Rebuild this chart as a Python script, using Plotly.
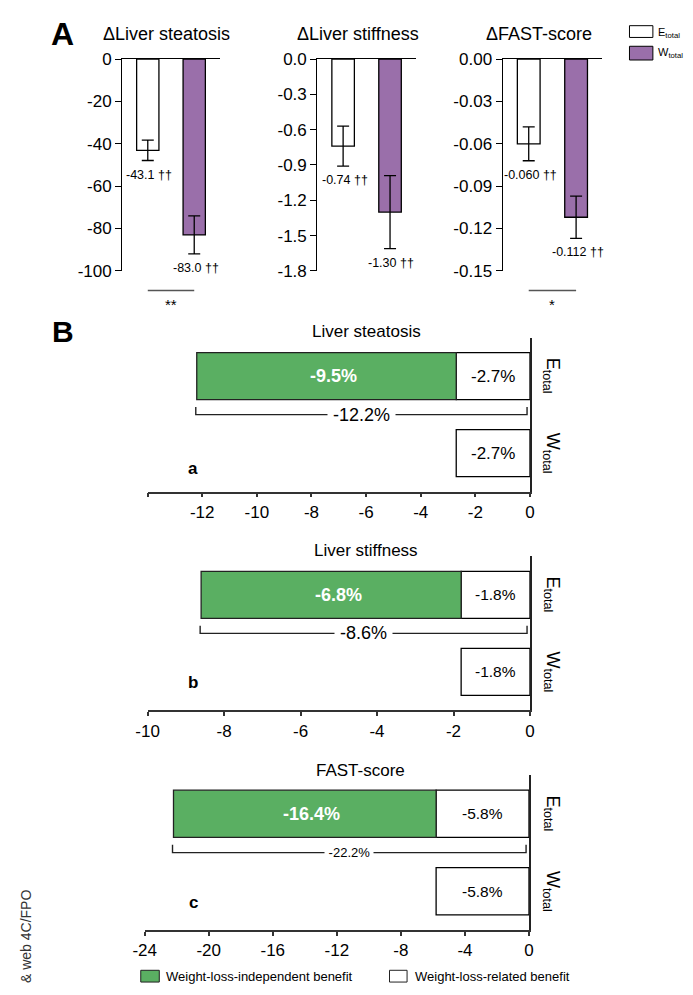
import plotly.graph_objects as go

# ---------------- data ----------------
# Panel A
groups = ["E_total", "W_total"]
a_titles = ["\u0394Liver steatosis", "\u0394Liver stiffness", "\u0394FAST-score"]
steatosis_mean = [-43.1, -83.0]
steatosis_sem = [4.8, 9.0]
stiffness_mean = [-0.74, -1.30]
stiffness_sem = [0.17, 0.31]
fast_mean = [-0.060, -0.112]
fast_sem = [0.012, 0.015]
steatosis_ticks = [0, -20, -40, -60, -80, -100]
steatosis_ticktext = ["0", "-20", "-40", "-60", "-80", "-100"]
stiffness_ticks = [0.0, -0.3, -0.6, -0.9, -1.2, -1.5, -1.8]
stiffness_ticktext = ["0.0", "-0.3", "-0.6", "-0.9", "-1.2", "-1.5", "-1.8"]
fast_ticks = [0.00, -0.03, -0.06, -0.09, -0.12, -0.15]
fast_ticktext = ["0.00", "-0.03", "-0.06", "-0.09", "-0.12", "-0.15"]
sig_marks = ["**", "", "*"]

# Panel B
b_titles = ["Liver steatosis", "Liver stiffness", "FAST-score"]
b_letters = ["a", "b", "c"]
independent = [-9.5, -6.8, -16.4]
related = [-2.7, -1.8, -5.8]
totals = [-12.2, -8.6, -22.2]
b_ticks_a = [-14, -12, -10, -8, -6, -4, -2, 0]
b_ticktext_a = [" ", "-12", "-10", "-8", "-6", "-4", "-2", "0"]
b_ticks_b = [-10, -8, -6, -4, -2, 0]
b_ticktext_b = ["-10", "-8", "-6", "-4", "-2", "0"]
b_ticks_c = [-24, -20, -16, -12, -8, -4, 0]
b_ticktext_c = ["-24", "-20", "-16", "-12", "-8", "-4", "0"]
legend_labels = ["Weight-loss-independent benefit", "Weight-loss-related benefit"]

# ---------------- styling ----------------
W, H = 693, 995
FONT = "Liberation Sans, Arial, Helvetica, sans-serif"
NARROW = "Liberation Sans Narrow, Arial Narrow, Liberation Sans, Arial, sans-serif"
PURPLE = "#9a6faa"
GREEN = "#5aaf62"
NBSP = "\u00a0"


def fx(px):
    return px / W


def fy(py):
    return 1 - py / H


fig = go.Figure()
annotations = []
shapes = []

# ---------------- Panel A ----------------
a_means = [steatosis_mean, stiffness_mean, fast_mean]
a_sems = [steatosis_sem, stiffness_sem, fast_sem]
a_ticks = [steatosis_ticks, stiffness_ticks, fast_ticks]
a_ticktext = [steatosis_ticktext, stiffness_ticktext, fast_ticktext]
a_fmt = ["{:.1f} \u2020\u2020", "{:.2f} \u2020\u2020", "{:.3f} \u2020\u2020"]
a_xdom = [(113, 213), (313, 414), (503, 605)]
a_title_x = [158, 355, 540]
layout_axes = {}

for i in range(3):
    n = i + 1
    xa = "x" if n == 1 else f"x{n}"
    ya = "y" if n == 1 else f"y{n}"
    fig.add_trace(go.Bar(
        x=[0, 1], y=a_means[i], width=0.48,
        marker=dict(color=["white", PURPLE], line=dict(color="black", width=1.3)),
        error_y=dict(type="data", array=a_sems[i], color="black", thickness=1.3, width=6),
        xaxis=xa, yaxis=ya, showlegend=False, hoverinfo="skip",
    ))
    layout_axes[f"xaxis{n}" if n > 1 else "xaxis"] = dict(
        domain=[fx(a_xdom[i][0]), fx(a_xdom[i][1])], range=[-0.55, 1.55],
        side="top", anchor=ya, showline=True, linecolor="black", linewidth=1.3,
        showticklabels=False, ticks="", showgrid=False, zeroline=False, fixedrange=True,
    )
    lo = a_ticks[i][-1]
    layout_axes[f"yaxis{n}" if n > 1 else "yaxis"] = dict(
        domain=[fy(267), fy(51)], range=[lo, 0], anchor=xa,
        showline=True, linecolor="black", linewidth=1.3,
        ticks="outside", ticklen=6, tickwidth=1.3, tickcolor="black",
        tickvals=a_ticks[i], ticktext=a_ticktext[i],
        tickfont=dict(size=17, color="black", family=FONT),
        showgrid=False, zeroline=False, fixedrange=True,
    )
    # title
    annotations.append(dict(
        text=a_titles[i], xref="paper", yref="paper", x=fx(a_title_x[i]), y=fy(25),
        showarrow=False, font=dict(size=18, color="black", family=FONT),
        xanchor="center", yanchor="middle",
    ))
    # value labels
    for j in range(2):
        annotations.append(dict(
            text=a_fmt[i].format(a_means[i][j]), xref=xa, yref=ya,
            x=j + 0.03, y=a_means[i][j] - a_sems[i][j], yshift=-14,
            showarrow=False, font=dict(size=12.5, color="black", family=NARROW),
            xanchor="center", yanchor="middle",
        ))
    # significance
    if sig_marks[i]:
        shapes.append(dict(
            type="line", xref=xa, yref="paper", x0=0, x1=1, y0=fy(287), y1=fy(287),
            line=dict(color="#555555", width=1.5),
        ))
        annotations.append(dict(
            text=sig_marks[i], xref=xa, yref="paper", x=0.5, y=fy(301),
            showarrow=False, font=dict(size=15, color="black", family=FONT),
            xanchor="center", yanchor="middle",
        ))

# legend of panel A
shapes.append(dict(type="rect", xref="paper", yref="paper", x0=fx(633), x1=fx(657),
                   y0=fy(29), y1=fy(17), fillcolor="white", line=dict(color="black", width=1)))
shapes.append(dict(type="rect", xref="paper", yref="paper", x0=fx(633), x1=fx(657),
                   y0=fy(52), y1=fy(38), fillcolor=PURPLE, line=dict(color="black", width=1)))
annotations.append(dict(text="E<sub>total</sub>", xref="paper", yref="paper", x=fx(660), y=fy(24),
                        showarrow=False, xanchor="left", yanchor="middle",
                        font=dict(size=11, color="black", family=FONT)))
annotations.append(dict(text="W<sub>total</sub>", xref="paper", yref="paper", x=fx(660), y=fy(45),
                        showarrow=False, xanchor="left", yanchor="middle",
                        font=dict(size=11, color="black", family=FONT)))

# ---------------- Panel B ----------------
b_ticks = [b_ticks_a, b_ticks_b, b_ticks_c]
b_ticktext = [b_ticktext_a, b_ticktext_b, b_ticktext_c]
b_xdom = [(139, 531), (139, 531), (136, 530)]
b_ydom = [(335, 492), (558, 715), (781, 939)]
b_title_pos = [(363, 329), (363, 552), (357, 776)]
b_letter_y = [468, 687, 911]
b_white_size = [17, 15.5, 15.5]
b_total_size = [18, 18, 13]

for i in range(3):
    n = i + 4
    xa, ya = f"x{n}", f"y{n}"
    # weight-loss-related (white) for E and W
    fig.add_trace(go.Bar(
        y=[1, 0], x=[related[i], related[i]], base=[0, 0], orientation="h", width=0.61,
        marker=dict(color="white", line=dict(color="black", width=1.3)),
        xaxis=xa, yaxis=ya, showlegend=False, hoverinfo="skip",
    ))
    # weight-loss-independent (green) for E
    fig.add_trace(go.Bar(
        y=[1], x=[independent[i]], base=[related[i]], orientation="h", width=0.61,
        marker=dict(color=GREEN, line=dict(color="#222222", width=1.3)),
        xaxis=xa, yaxis=ya, showlegend=False, hoverinfo="skip",
    ))
    lo = b_ticks[i][0]
    layout_axes[f"xaxis{n}"] = dict(
        domain=[fx(b_xdom[i][0]), fx(b_xdom[i][1])], range=[lo, 0], anchor=ya,
        showline=True, linecolor="#333333", linewidth=1.6,
        ticks="outside", ticklen=4, tickwidth=1.6, tickcolor="#333333",
        tickvals=b_ticks[i], ticktext=b_ticktext[i],
        tickfont=dict(size=17, color="black", family=FONT),
        showgrid=False, zeroline=False, fixedrange=True,
    )
    layout_axes[f"yaxis{n}"] = dict(
        domain=[fy(b_ydom[i][1]), fy(b_ydom[i][0])], range=[-0.5, 1.5], anchor=xa,
        side="right", showline=True, linecolor="#222222", linewidth=1.5,
        showticklabels=False, ticks="", showgrid=False, zeroline=False, fixedrange=True,
    )
    # title
    annotations.append(dict(
        text=b_titles[i], xref="paper", yref="paper",
        x=fx(b_title_pos[i][0]), y=fy(b_title_pos[i][1]),
        showarrow=False, font=dict(size=17, color="black", family=FONT),
        xanchor="center", yanchor="middle",
    ))
    # bar labels
    annotations.append(dict(
        text=f"<b>{independent[i]:.1f}%</b>", xref=xa, yref=ya,
        x=related[i] + independent[i] / 2, xshift=7, y=1,
        showarrow=False, font=dict(size=18, color="white", family=NARROW),
        xanchor="center", yanchor="middle",
    ))
    for yy in (1, 0):
        annotations.append(dict(
            text=f"{related[i]:.1f}%", xref=xa, yref=ya, x=related[i] / 2, y=yy,
            showarrow=False, font=dict(size=b_white_size[i], color="black", family=NARROW),
            xanchor="center", yanchor="middle",
        ))
    # bracket for total
    px_per_unit = (b_xdom[i][1] - b_xdom[i][0]) / (0 - lo)
    x_end = -3.0 / px_per_unit
    x_start = totals[i] - 1.0 / px_per_unit
    y_line = 0.5
    y_tick = 0.6
    shapes.append(dict(
        type="path", xref=xa, yref=ya,
        path=f"M {x_start},{y_tick} L {x_start},{y_line} L {x_end},{y_line} L {x_end},{y_tick}",
        line=dict(color="#222222", width=1.4),
    ))
    annotations.append(dict(
        text=f"{NBSP}{totals[i]:.1f}%{NBSP}", xref=xa, yref=ya, x=(x_start + x_end) / 2, y=y_line,
        showarrow=False, font=dict(size=b_total_size[i], color="black", family=NARROW),
        xanchor="center", yanchor="middle", bgcolor="white", borderpad=0,
    ))
    # rotated row labels
    for yy, lab in ((1, "E"), (0, "W")):
        annotations.append(dict(
            text=f"{lab}<sub>total</sub>", xref="paper", yref=ya, x=fx(553), y=yy,
            textangle=90, showarrow=False,
            font=dict(size=18, color="black", family=FONT),
            xanchor="center", yanchor="middle",
        ))
    # letter
    annotations.append(dict(
        text=f"<b>{b_letters[i]}</b>", xref="paper", yref="paper", x=fx(186), y=fy(b_letter_y[i]),
        showarrow=False, font=dict(size=17, color="black", family=FONT),
        xanchor="center", yanchor="middle",
    ))

# bottom legend
shapes.append(dict(type="rect", xref="paper", yref="paper", x0=fx(132), x1=fx(151),
                   y0=fy(992), y1=fy(980), fillcolor=GREEN, line=dict(color="#222222", width=1)))
shapes.append(dict(type="rect", xref="paper", yref="paper", x0=fx(387), x1=fx(405),
                   y0=fy(992), y1=fy(980), fillcolor="white", line=dict(color="#222222", width=1)))
annotations.append(dict(text=legend_labels[0], xref="paper", yref="paper", x=fx(156), y=fy(986),
                        showarrow=False, xanchor="left", yanchor="middle",
                        font=dict(size=13, color="black", family=FONT)))
annotations.append(dict(text=legend_labels[1], xref="paper", yref="paper", x=fx(411), y=fy(986),
                        showarrow=False, xanchor="left", yanchor="middle",
                        font=dict(size=13, color="black", family=FONT)))

# panel letters
annotations.append(dict(text="<b>A</b>", xref="paper", yref="paper", x=fx(52), y=fy(25),
                        showarrow=False, xanchor="center", yanchor="middle",
                        font=dict(size=32, color="black", family=FONT)))
annotations.append(dict(text="<b>B</b>", xref="paper", yref="paper", x=fx(52), y=fy(329),
                        showarrow=False, xanchor="center", yanchor="middle",
                        font=dict(size=30, color="black", family=FONT)))

# side watermark text
annotations.append(dict(text="& web 4C/FPO", xref="paper", yref="paper", x=fx(15), y=fy(896),
                        textangle=-90, showarrow=False, xanchor="center", yanchor="top",
                        font=dict(size=14, color="#333333", family=FONT)))

fig.update_layout(
    width=W, height=H, autosize=False,
    margin=dict(l=0, r=0, t=0, b=0),
    paper_bgcolor="white", plot_bgcolor="rgba(0,0,0,0)",
    barmode="overlay", showlegend=False,
    font=dict(family=FONT, color="black"),
    annotations=annotations, shapes=shapes,
    **layout_axes,
)

fig.write_html("out.html", post_script="document.body.style.margin='0';",
               config={"displayModeBar": False})
